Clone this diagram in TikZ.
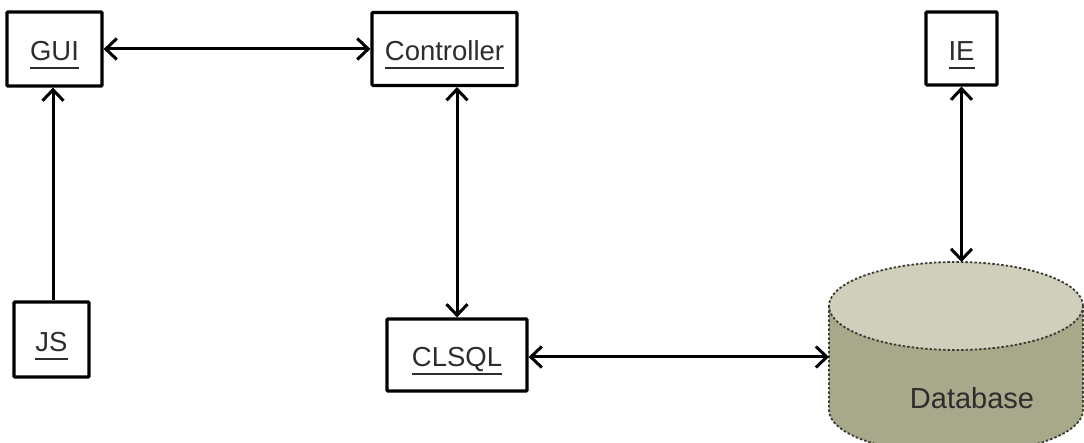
\documentclass[tikz,border=0pt]{standalone}
\usepackage{fontspec}
\setmainfont{Liberation Sans}
\usetikzlibrary{arrows.meta,calc}
\definecolor{txtgray}{RGB}{45,45,45}
\definecolor{dbtop}{RGB}{207,207,188}
\definecolor{dbbody}{RGB}{168,168,138}
\definecolor{dbline}{RGB}{60,60,50}
\newcommand\ulx[1]{\setbox0\hbox{#1}\rlap{\rule[-8.5pt]{\wd0}{2pt}}\box0}
\begin{document}
\begin{tikzpicture}[x=1pt,y=1pt,
  box/.style={draw=black, line width=3.2pt, rounded corners=1pt, fill=white,
    inner sep=0pt, text height=30pt, text depth=6pt, text=txtgray,
    font=\fontsize{27.5}{30}\selectfont},
  conn/.style={line width=3pt, {Straight Barb[length=11pt,width=21pt,line width=3pt]}-{Straight Barb[length=11pt,width=21pt,line width=3pt]}},
  conn1/.style={line width=3pt, -{Straight Barb[length=11pt,width=21pt,line width=3pt]}}
]
\useasboundingbox (0,0) rectangle (1084,443);
\fill[white] (0,0) rectangle (1084,443);

% Database cylinder
\begin{scope}
\clip (0,0) rectangle (1084,443);
\fill[dbbody] (829,137) -- (829,33) arc[start angle=180,end angle=360,x radius=127,y radius=44] -- (1083,137) -- cycle;
\fill[dbtop] (956,137) ellipse[x radius=127,y radius=44];
\draw[dbline, line width=1.8pt, dash pattern=on 2.5pt off 2pt]
  (829,137) -- (829,33) arc[start angle=180,end angle=360,x radius=127,y radius=44] -- (1083,137);
\draw[dbline, line width=1.8pt, dash pattern=on 2.5pt off 2pt] (956,137) ellipse[x radius=127,y radius=44];
\end{scope}
\node[text=txtgray, font=\fontsize{29}{31}\selectfont] (db) at (972,45) {Database};
\coordinate (dbleft) at (829,86);
\coordinate (dbtopc) at (962,181);

% Boxes
\node[box, minimum width=95pt, minimum height=74pt] (gui) at (54.5,394) {\ulx{GUI}};
\node[box, minimum width=145pt, minimum height=73pt] (ctrl) at (444.5,394) {\ulx{Controller}};
\node[box, minimum width=71pt, minimum height=73pt] (ie) at (961.5,394.5) {\ulx{IE}};
\node[box, minimum width=75pt, minimum height=75pt] (js) at (51.5,103.5) {\ulx{JS}};
\node[box, minimum width=140pt, minimum height=72pt] (clsql) at (457,88) {\ulx{CLSQL}};

% Connectors
\draw[conn] (gui.east) -- (ctrl.west);
\draw[conn1] (js.north -| 53,0) -- (gui.south -| 53,0);
\draw[conn] (clsql.north) -- (clsql.north |- ctrl.south);
\draw[conn] (clsql.east |- dbleft) -- (dbleft);
\draw[conn] (ie.south) -- (ie.south |- dbtopc);
\end{tikzpicture}
\end{document}
